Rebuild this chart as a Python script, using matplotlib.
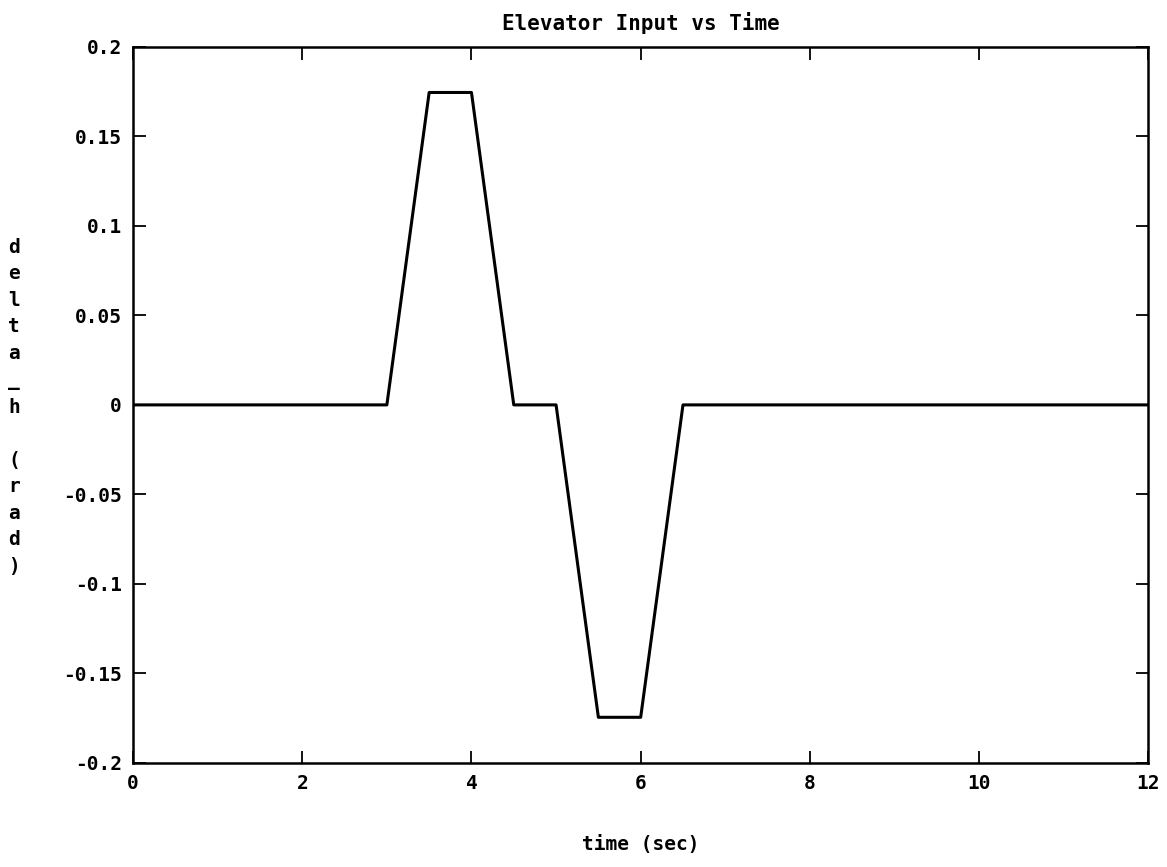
import numpy as np
import matplotlib
matplotlib.use("Agg")
import matplotlib.pyplot as plt

# elevator doublet input
time_s = [0, 3.0, 3.5, 4.0, 4.5, 5.0, 5.5, 6.0, 6.5, 12]
delta_h = [0, 0, 0.1745, 0.1745, 0, 0, -0.1745, -0.1745, 0, 0]

x_ticks = [0, 2, 4, 6, 8, 10, 12]
y_ticks = [-0.2, -0.15, -0.1, -0.05, 0, 0.05, 0.1, 0.15, 0.2]
y_tick_labels = ["-0.2", "-0.15", "-0.1", "-0.05", "0", "0.05", "0.1", "0.15", "0.2"]

font = {"family": "DejaVu Sans Mono", "weight": "bold"}

fig = plt.figure(figsize=(11.67, 8.67), dpi=100)
ax = fig.add_axes([0.114, 0.12, 0.87, 0.826])

ax.plot(time_s, delta_h, color="black", linewidth=2.2)

ax.set_xlim(0, 12)
ax.set_ylim(-0.2, 0.2)
ax.set_xticks(x_ticks)
ax.set_xticklabels([str(t) for t in x_ticks], fontsize=14, **font)
ax.set_yticks(y_ticks)
ax.set_yticklabels(y_tick_labels, fontsize=14, **font)

ax.tick_params(direction="in", length=9, width=1.3, top=True, right=True, pad=8)
for s in ax.spines.values():
    s.set_linewidth(1.8)

ax.set_title("Elevator Input vs Time", fontsize=15, pad=12, **font)
ax.set_xlabel("time (sec)", fontsize=14, labelpad=30, **font)

# y label is stacked one character per line, upright
ylab = "\n".join("delta_h (rad)")
fig.text(0.012, 0.531, ylab, fontsize=14, ha="center", va="center",
         linespacing=1.5, **font)

fig.savefig("out.png", dpi=100, facecolor="white")
